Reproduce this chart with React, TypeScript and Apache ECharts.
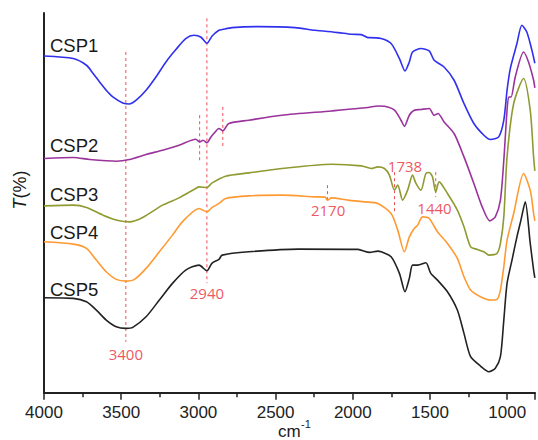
import { useEffect, useRef } from "react";
import * as echarts from "echarts";

// wavenumber (cm-1), transmittance (arbitrary offset units)
const csp1: [number, number][] = [
  [4000, 337], [3810, 334.4], [3725, 327.7], [3683, 319.7], [3640, 311], [3597, 302.7],
  [3554, 296], [3490, 290], [3447, 289], [3403, 292.7], [3339, 302.7], [3275, 316],
  [3210, 331], [3146, 343.4], [3082, 354.4], [3028, 357.7], [2985, 356], [2945, 349.7],
  [2911, 357], [2867, 362.7], [2846, 363.4], [2782, 365.4], [2610, 366.4], [2374, 365.4],
  [2245, 362.7], [2095, 360.4], [2010, 358.7], [1945, 358.4], [1902, 355.4], [1891, 355.4],
  [1817, 354.4], [1752, 349.4], [1698, 334.4], [1662, 322], [1634, 331], [1613, 341],
  [1559, 344.4], [1505, 342], [1473, 332.7], [1409, 326], [1344, 312.7], [1280, 289.4],
  [1216, 269.4], [1151, 257.7], [1109, 253.4], [1055, 256], [1022, 272.7], [1001, 302.7],
  [980, 324.4], [937, 349.4], [905, 367.7], [873, 361], [840, 342.7], [821, 329.7],
];

const csp2: [number, number][] = [
  [4000, 234.4], [3810, 235.4], [3704, 233.4], [3532, 231.7], [3447, 233.4], [3339, 238.4],
  [3232, 242.7], [3125, 247.7], [3017, 253.7], [2992, 251], [2970, 252.7], [2945, 250],
  [2921, 255.4], [2900, 259.4], [2867, 264.4], [2842, 262], [2803, 269.4], [2674, 272.7],
  [2460, 277.7], [2138, 282], [1902, 285.4], [1838, 287], [1795, 286.7], [1730, 282.7],
  [1688, 272.7], [1666, 266.7], [1634, 277.7], [1602, 282.7], [1559, 283.4], [1505, 284.4],
  [1473, 277.7], [1448, 279.4], [1409, 271], [1344, 259.4], [1280, 236], [1216, 209.4],
  [1162, 186], [1113, 172], [1077, 176], [1044, 192.7], [1022, 232.7], [1001, 282.7],
  [990, 296], [975, 296], [948, 316], [894, 341], [862, 331], [829, 312.7], [821, 305],
];

const csp3: [number, number][] = [
  [4000, 187], [3810, 187.7], [3725, 185.4], [3618, 177.7], [3511, 172], [3447, 171],
  [3361, 175.4], [3232, 187.7], [3125, 195], [3017, 204.4], [2996, 206], [2945, 205.4],
  [2911, 210], [2824, 216.7], [2674, 220], [2460, 224.4], [2138, 228.7], [1945, 227],
  [1881, 224.4], [1838, 226], [1795, 224.4], [1763, 217.7], [1730, 202.7], [1709, 207.7],
  [1677, 192.7], [1645, 202.7], [1613, 217.7], [1591, 209.4], [1559, 202.7], [1527, 219.4],
  [1505, 220.4], [1484, 216], [1463, 201], [1441, 211], [1387, 199.4], [1323, 182.7],
  [1280, 166], [1237, 146], [1194, 143.4], [1151, 141], [1119, 137.7], [1066, 139.4],
  [1044, 149.4], [1022, 176], [1001, 236], [958, 289.4], [894, 314.4], [851, 282.7],
  [829, 235.7], [821, 222],
];

const csp4: [number, number][] = [
  [4000, 151], [3810, 148.7], [3725, 144.4], [3661, 132.7], [3597, 121], [3532, 113.4],
  [3468, 111.7], [3414, 113.4], [3339, 124.4], [3253, 141], [3168, 157.7], [3104, 171],
  [2996, 184.4], [2945, 181], [2911, 185.4], [2867, 189.4], [2824, 194.4], [2674, 197],
  [2460, 197.7], [2245, 196], [2180, 195.7], [2164, 192.7], [2138, 195], [2031, 192.7],
  [1923, 191], [1838, 189.4], [1752, 179.4], [1709, 162.7], [1666, 141], [1634, 156],
  [1602, 164.4], [1580, 167.7], [1548, 176], [1505, 174.4], [1452, 161], [1387, 149.4],
  [1323, 134.4], [1280, 116], [1237, 102.7], [1173, 96], [1109, 92.7], [1066, 93.4],
  [1044, 102.7], [1022, 126], [1001, 152.7], [958, 179.4], [894, 219.4], [851, 202.7],
  [829, 179.4], [821, 172],
];

const csp5: [number, number][] = [
  [4000, 95], [3810, 94.4], [3725, 91], [3661, 82.7], [3597, 72.7], [3532, 66],
  [3468, 64.4], [3425, 65.4], [3339, 76], [3253, 92.7], [3168, 109.4], [3082, 122.7],
  [2996, 127.7], [2945, 122], [2911, 129.7], [2867, 133.4], [2846, 137.7], [2674, 141],
  [2353, 143.7], [1967, 143.4], [1891, 140.4], [1838, 141.7], [1817, 141], [1752, 136],
  [1698, 119.4], [1662, 101], [1634, 114.4], [1613, 127.7], [1580, 127.7], [1527, 130],
  [1495, 119.4], [1452, 112.7], [1387, 101], [1323, 82.7], [1280, 59.4], [1237, 36],
  [1173, 26.7], [1119, 21], [1077, 24.4], [1044, 36], [1022, 72.7], [1001, 109.4],
  [969, 132.7], [937, 156], [911, 172.7], [883, 191], [851, 149.7], [829, 122.7], [821, 115],
];

const seriesNames = ["CSP1", "CSP2", "CSP3", "CSP4", "CSP5"];
const seriesData = [csp1, csp2, csp3, csp4, csp5];
const seriesColors = ["#3030ee", "#9a339c", "#8f9a30", "#ff9a33", "#222222"];

// dashed peak markers: wavenumber, from T, to T
const peakLines: [number, number, number][] = [
  [3470, 341, 51],
  [2945, 374.7, 109.7],
  [2992, 277.7, 231],
  [2842, 286, 244.4],
  [2164, 207.7, 192.7],
  [1730, 220.7, 179.7],
  [1463, 220.7, 195.7],
];

// peak annotation labels: text, wavenumber, T
const peakLabels: [string, number, number][] = [
  ["3400", 3470, 38.7],
  ["2940", 2945, 100],
  ["2170", 2160, 182.7],
  ["1738", 1662, 227],
  ["1440", 1471, 185],
];

// curve name labels (left side)
const nameLabelY = [46, 146, 195, 233, 290];

export default function App() {
  const ref = useRef<HTMLDivElement>(null);
  useEffect(() => {
    const chart = echarts.init(ref.current!, null, { renderer: "svg" });
    const red = "rgba(236,48,56,0.85)";
    const series: any[] = [];
    peakLines.forEach(([wn, a, b], i) => {
      series.push({
        name: "peak" + i,
        type: "line",
        data: [[wn, a], [wn, b]],
        symbol: "none",
        silent: true,
        lineStyle: { color: red, width: 1, type: [3, 3] },
        z: 1,
      });
    });
    seriesData.forEach((d, i) => {
      series.push({
        name: seriesNames[i],
        type: "line",
        data: d,
        symbol: "none",
        smooth: 0.25,
        lineStyle: { color: seriesColors[i], width: 1.6 },
        z: 3,
      });
    });
    series.push({
      name: "labels",
      type: "scatter",
      symbolSize: 0,
      data: peakLabels.map(([t, wn, v]) => ({ name: t, value: [wn, v] })),
      label: {
        show: true,
        position: "inside",
        formatter: "{b}",
        color: "#e82a36",
        fontSize: 15,
        fontFamily: "Open Sans",
      },
      z: 4,
    });

    chart.setOption({
      animation: false,
      grid: { left: 44, right: 0, top: 13, bottom: 47.3 },
      xAxis: {
        type: "value",
        min: 820,
        max: 4000,
        inverse: true,
        splitLine: { show: false },
        axisLine: { lineStyle: { color: "#222", width: 2 } },
        axisTick: { length: 7, lineStyle: { color: "#222", width: 1.5 } },
        minorTick: { show: true, splitNumber: 2, length: 4.5, lineStyle: { color: "#222", width: 1.5 } },
        axisLabel: {
          color: "#222",
          fontSize: 17,
          fontFamily: "Liberation Sans",
          margin: 11,
          formatter: (v: number) => (v % 500 === 0 ? String(v) : ""),
        },
      },
      yAxis: {
        type: "value",
        min: 0,
        max: 380,
        splitLine: { show: false },
        axisLine: { show: true, lineStyle: { color: "#222", width: 2 } },
        axisTick: { show: false },
        axisLabel: { show: false },
      },
      graphic: [
        ...seriesNames.map((n, i) => ({
          type: "text",
          left: 50,
          top: nameLabelY[i] - 10,
          style: { text: n, fontSize: 18.5, fontFamily: "Liberation Sans", fill: "#1a1a1a" },
        })),
        {
          type: "text",
          x: 20,
          y: 190,
          rotation: Math.PI / 2,
          style: {
            text: "{i|T}(%)",
            fontSize: 18,
            fontFamily: "Liberation Sans",
            fill: "#1a1a1a",
            align: "center",
            verticalAlign: "middle",
            rich: {
              i: { fontStyle: "italic", fontSize: 18, fontFamily: "Liberation Sans", fill: "#1a1a1a" },
            },
          },
        },
        {
          type: "text",
          x: 278,
          y: 431,
          style: { text: "cm", fontSize: 17, fontFamily: "Liberation Sans", fill: "#1a1a1a", verticalAlign: "middle" },
        },
        {
          type: "text",
          x: 301,
          y: 424,
          style: { text: "-1", fontSize: 11, fontFamily: "Liberation Sans", fill: "#1a1a1a", verticalAlign: "middle" },
        },
      ],
      series,
    });
    return () => chart.dispose();
  }, []);
  return <div ref={ref} style={{ position: "absolute", left: 0, top: 0, width: 538, height: 440 }} />;
}
